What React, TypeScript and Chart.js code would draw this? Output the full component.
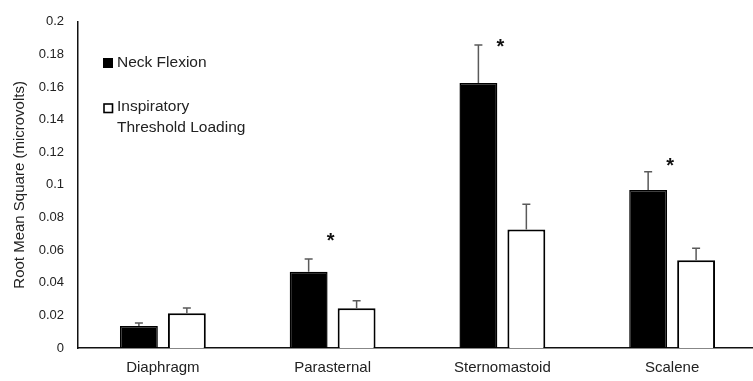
import React, { useEffect, useRef } from "react";
import { Chart, registerables } from "chart.js";

Chart.register(...registerables);

const categories = ["Diaphragm", "Parasternal", "Sternomastoid", "Scalene"];
const neckFlexion = [0.0135, 0.0467, 0.1625, 0.0969];
const neckFlexionErr = [0.0018, 0.0079, 0.0232, 0.0111];
const itl = [0.0213, 0.0244, 0.0727, 0.0538];
const itlErr = [0.0033, 0.0046, 0.0155, 0.0074];
const starValues: (number | null)[] = [null, 0.0689, 0.188, 0.1148];
const seriesNames = ["Neck Flexion", "Inspiratory", "Threshold Loading"];
const yTickMax = 0.2;
const yTickStep = 0.02;

const FONT = "'Liberation Sans', Arial, sans-serif";
const TEXT = "#222";

const overlayPlugin = {
  id: "overlay",
  afterDatasetsDraw(chart: any) {
    const ctx = chart.ctx;
    const y = chart.scales.y;
    const x = chart.scales.x;
    const errs = [neckFlexionErr, itlErr];
    const vals = [neckFlexion, itl];
    ctx.save();
    ctx.strokeStyle = "#5a5a5a";
    ctx.lineWidth = 1.5;
    chart.data.datasets.forEach((_: any, di: number) => {
      const meta = chart.getDatasetMeta(di);
      meta.data.forEach((el: any, i: number) => {
        const top = y.getPixelForValue(vals[di][i] + errs[di][i]);
        const base = y.getPixelForValue(vals[di][i]);
        ctx.beginPath();
        ctx.moveTo(el.x, base);
        ctx.lineTo(el.x, top);
        ctx.moveTo(el.x - 4, top);
        ctx.lineTo(el.x + 4, top);
        ctx.stroke();
      });
    });
    ctx.fillStyle = "#111";
    ctx.font = `bold 20px ${FONT}`;
    ctx.textAlign = "center";
    ctx.textBaseline = "alphabetic";
    starValues.forEach((v, i) => {
      if (v == null) return;
      const cx = x.getPixelForValue(i) - 2;
      const cy = y.getPixelForValue(v);
      ctx.fillText("*", cx, cy + 11.5);
    });
    ctx.restore();
  },
  afterDraw(chart: any) {
    const ctx = chart.ctx;
    ctx.save();
    ctx.fillStyle = "#000";
    ctx.fillRect(103, 58, 10, 10);
    ctx.strokeStyle = "#000";
    ctx.lineWidth = 1.6;
    ctx.strokeRect(104, 104, 8.5, 8.5);
    ctx.fillStyle = TEXT;
    ctx.font = `15.5px ${FONT}`;
    ctx.textAlign = "left";
    ctx.textBaseline = "middle";
    ctx.fillText(seriesNames[0], 117, 63);
    ctx.fillText(seriesNames[1], 117, 107);
    ctx.fillText(seriesNames[2], 117, 128);
    ctx.restore();
  },
};

export default function App() {
  const ref = useRef<HTMLCanvasElement>(null);
  useEffect(() => {
    const canvas = ref.current!;
    const chart = new Chart(canvas, {
      type: "bar",
      data: {
        labels: categories,
        datasets: [
          {
            label: "Neck Flexion",
            data: neckFlexion,
            backgroundColor: "#000",
            borderColor: "#000",
            borderWidth: 1.5,
            categoryPercentage: 0.565,
            barPercentage: 0.79,
          },
          {
            label: "Inspiratory Threshold Loading",
            data: itl,
            backgroundColor: "#fff",
            borderColor: "#000",
            borderWidth: 2,
            categoryPercentage: 0.565,
            barPercentage: 0.79,
          },
        ],
      },
      options: {
        responsive: false,
        animation: false,
        devicePixelRatio: 1,
        layout: { padding: { left: 0, right: 3, top: 17, bottom: 0 } },
        plugins: { legend: { display: false }, tooltip: { enabled: false } },
        scales: {
          x: {
            grid: { display: false, drawTicks: false },
            border: { display: true, color: "#111", width: 1.5 },
            ticks: { color: TEXT, font: { family: FONT, size: 15 }, padding: 11 },
            afterFit: (s: any) => { s.height = 33; },
          },
          y: {
            min: 0,
            max: yTickMax,
            grid: { display: false, drawTicks: false },
            border: { display: true, color: "#111", width: 1.5 },
            ticks: {
              stepSize: yTickStep,
              color: TEXT,
              font: { family: FONT, size: 13 },
              padding: 14,
              callback: (v: any) => String(Math.round(Number(v) * 100) / 100),
            },
            title: {
              display: true,
              text: "Root Mean Square (microvolts)",
              color: TEXT,
              font: { family: FONT, size: 15 },
              padding: { top: 11, bottom: 0 },
            },
            afterFit: (s: any) => { s.width = 78; },
          },
        },
      },
      plugins: [overlayPlugin],
    });
    return () => chart.destroy();
  }, []);
  return (
    <div style={{ position: "absolute", left: 0, top: 0, width: 753, height: 381, overflow: "hidden", background: "#fff" }}>
      <canvas ref={ref} width={760} height={381} style={{ display: "block" }} />
    </div>
  );
}
